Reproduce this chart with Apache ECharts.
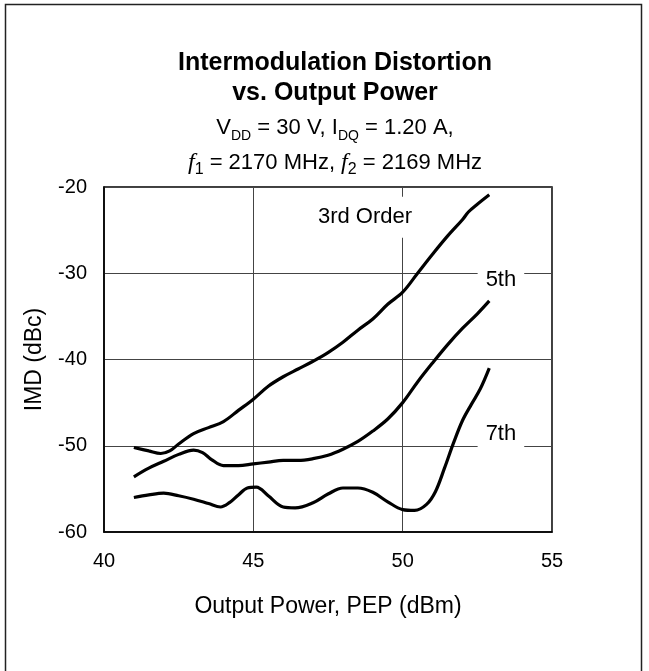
<!DOCTYPE html>
<html><head><meta charset="utf-8">
<script src="https://cdn.jsdelivr.net/npm/echarts@6/dist/echarts.min.js"></script>
<style>html,body{margin:0;padding:0;background:#fff}#c{width:649px;height:671px}</style>
</head><body><div id="c"></div>
<script>
// ---- data ----
const xTicks = [40, 45, 50, 55];
const yTicks = [-60, -50, -40, -30, -20];

const power3 = [41, 41.5, 41.9, 42.2, 42.5, 43, 43.5, 44, 44.5, 45, 45.5, 46, 46.5, 47, 47.5, 48, 48.5, 49, 49.5, 50, 50.5, 51, 51.5, 52, 52.2, 52.5, 52.9];
const imd3   = [-50.2, -50.6, -50.9, -50.6, -49.8, -48.6, -47.9, -47.2, -45.9, -44.6, -43.1, -42.0, -41.1, -40.2, -39.2, -38.0, -36.6, -35.3, -33.6, -32.2, -30.0, -27.8, -25.7, -23.8, -22.9, -22.0, -20.9];

const power5 = [41, 41.5, 42, 42.5, 43, 43.3, 43.6, 44, 44.5, 45, 45.5, 46, 46.5, 47, 47.5, 48, 48.5, 49, 49.5, 50, 50.5, 51, 51.5, 52, 52.5, 52.9];
const imd5   = [-53.6, -52.6, -51.8, -51.0, -50.5, -50.8, -51.6, -52.3, -52.3, -52.1, -51.9, -51.7, -51.7, -51.5, -51.1, -50.4, -49.5, -48.3, -46.9, -45.0, -42.6, -40.4, -38.3, -36.4, -34.7, -33.2];

const power7 = [41, 41.5, 42, 42.5, 43, 43.5, 43.9, 44.2, 44.5, 44.8, 45.1, 45.5, 46, 46.4, 47, 47.5, 48, 48.5, 49, 49.5, 50, 50.4, 50.8, 51.1, 51.4, 51.7, 52, 52.3, 52.6, 52.9];
const imd7   = [-56.0, -55.7, -55.5, -55.8, -56.2, -56.7, -57.1, -56.6, -55.7, -54.9, -54.8, -55.8, -57.1, -57.2, -56.6, -55.6, -54.9, -54.9, -55.4, -56.5, -57.4, -57.5, -56.8, -55.3, -52.6, -49.7, -47.1, -45.2, -43.4, -41.0];

const curveNames = ['3rd Order', '5th', '7th'];

// ---- chart ----
const FONT = '"Liberation Sans", Arial, Helvetica, sans-serif';
const chart = echarts.init(document.getElementById('c'), null, {renderer: 'canvas'});

function pairs(xs, ys) { return xs.map((x, i) => [x, ys[i]]); }
function lineSeries(name, xs, ys) {
  return {
    name, type: 'line', data: pairs(xs, ys), symbol: 'none', smooth: 0.35,
    lineStyle: {color: '#000', width: 3.2}, z: 5
  };
}

chart.setOption({
  animation: false,
  backgroundColor: '#fff',
  grid: {left: 104, right: 97, top: 187, bottom: 139, show: true,
         borderColor: '#000', borderWidth: 1.5, backgroundColor: 'transparent'},
  xAxis: {
    type: 'value', min: xTicks[0], max: xTicks[xTicks.length - 1], interval: xTicks[1] - xTicks[0],
    name: 'Output Power, PEP (dBm)', nameLocation: 'middle', nameGap: 63,
    nameTextStyle: {fontFamily: FONT, fontSize: 23, color: '#000'},
    axisLine: {show: true, lineStyle: {color: '#000', width: 1.5}},
    axisTick: {show: false},
    axisLabel: {fontFamily: FONT, fontSize: 20, color: '#000', margin: 19},
    splitLine: {show: true, lineStyle: {color: '#444', width: 1}}
  },
  yAxis: {
    type: 'value', min: yTicks[0], max: yTicks[yTicks.length - 1], interval: yTicks[1] - yTicks[0],
    name: 'IMD (dBc)', nameLocation: 'middle', nameGap: 58, nameRotate: 90,
    nameTextStyle: {fontFamily: FONT, fontSize: 23, color: '#000'},
    axisLine: {show: true, lineStyle: {color: '#000', width: 1.5}},
    axisTick: {show: false},
    axisLabel: {fontFamily: FONT, fontSize: 20, color: '#000', margin: 17},
    splitLine: {show: true, lineStyle: {color: '#444', width: 1}}
  },
  series: [
    lineSeries(curveNames[0], power3, imd3),
    lineSeries(curveNames[1], power5, imd5),
    lineSeries(curveNames[2], power7, imd7)
  ]
});

// annotation anchor points (data coordinates) for the curve labels
const labelAnchors = [[48.74, -23.5], [53.29, -30.8], [53.29, -48.6]];
const labelPads = [[3, 4, 16, 4], [4, 8, 4, 8], [6, 8, 6, 8]];
const labelGraphics = curveNames.map((t, i) => {
  const p = chart.convertToPixel({gridIndex: 0}, labelAnchors[i]);
  return {
    type: 'text', x: p[0], y: p[1], z: 10,
    style: {text: t, align: 'center', verticalAlign: 'middle', fontFamily: FONT, fontSize: 22,
            fill: '#000', backgroundColor: '#fff', padding: labelPads[i]}
  };
});

const subRich = {
  n: {fontFamily: FONT, fontSize: 22, color: '#000'},
  s: {fontFamily: FONT, fontSize: 14, color: '#000', verticalAlign: 'bottom', lineHeight: 30},
  d: {fontFamily: FONT, fontSize: 16, color: '#000', verticalAlign: 'bottom', lineHeight: 30},
  i: {fontFamily: '"Liberation Serif", "Times New Roman", serif', fontStyle: 'italic', fontSize: 24, color: '#000'}
};

chart.setOption({
  graphic: [
    {type: 'rect', z: 0, silent: true, shape: {x: 5.5, y: 4.5, width: 636, height: 690},
     style: {fill: 'none', stroke: '#222', lineWidth: 1.5}},
    {type: 'text', x: 335, y: 63, style: {text: 'Intermodulation Distortion', align: 'center', verticalAlign: 'middle',
      fontFamily: FONT, fontSize: 25, fontWeight: 'bold', fill: '#000'}},
    {type: 'text', x: 335, y: 93, style: {text: 'vs. Output Power', align: 'center', verticalAlign: 'middle',
      fontFamily: FONT, fontSize: 25, fontWeight: 'bold', fill: '#000'}},
    {type: 'text', x: 335, y: 128, style: {text: '{n|V}{s|DD}{n| = 30 V, I}{s|DQ}{n| = 1.20 A,}', align: 'center', verticalAlign: 'middle',
      rich: subRich}},
    {type: 'text', x: 335, y: 163, style: {text: '{i|f}{d|1}{n| = 2170 MHz, }{i|f}{d|2}{n| = 2169 MHz}', align: 'center', verticalAlign: 'middle',
      rich: subRich}}
  ].concat(labelGraphics)
});
</script></body></html>
